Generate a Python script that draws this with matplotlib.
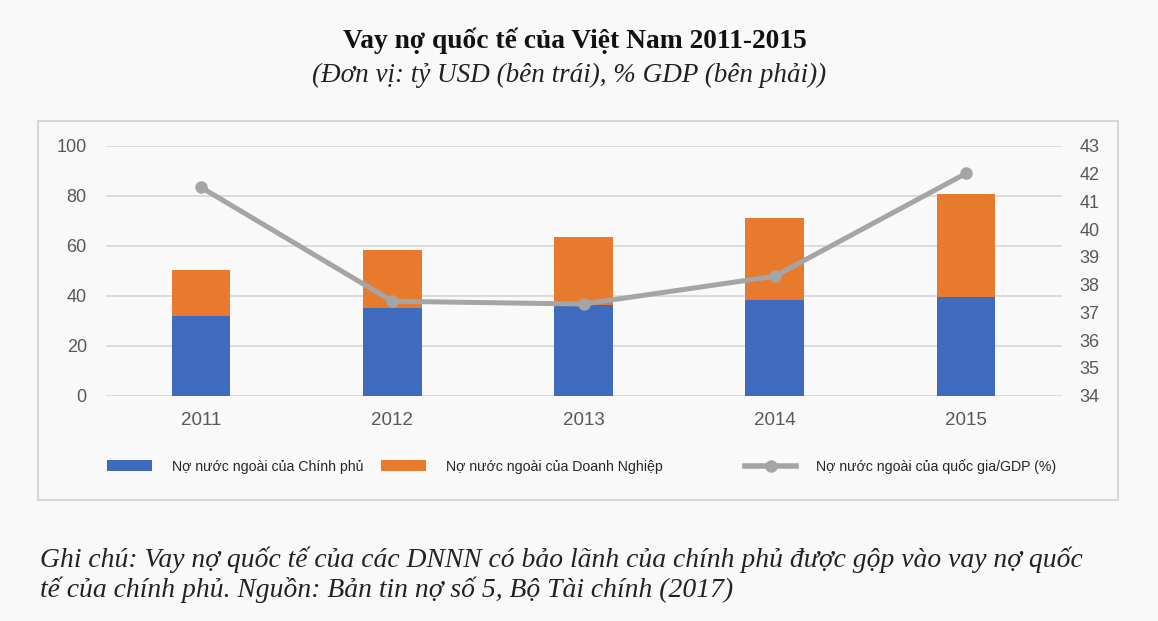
import matplotlib
matplotlib.use("Agg")
import matplotlib.pyplot as plt
from matplotlib.patches import Rectangle, Patch
from matplotlib.lines import Line2D

years = ["2011", "2012", "2013", "2014", "2015"]
gov_debt = [31.9, 34.9, 36.4, 38.3, 39.6]          # ty USD
corp_debt = [18.4, 23.4, 27.1, 32.7, 41.1]         # ty USD
debt_gdp = [41.5, 37.4, 37.3, 38.3, 42.0]          # % GDP
left_ticks = [0, 20, 40, 60, 80, 100]
right_ticks = [34, 35, 36, 37, 38, 39, 40, 41, 42, 43]

BLUE = "#3f6bbf"
ORANGE = "#e87a2e"
GRAY = "#a5a5a5"
TXT = "#595959"
BG = "#f9f9f9"

W, H = 1158, 621
fig = plt.figure(figsize=(W / 100, H / 100), dpi=100, facecolor=BG)

# chart frame, kept behind the axes
fig.patches.append(Rectangle((37.5 / W, 1 - 500 / H), 1080 / W, 379 / H,
                             transform=fig.transFigure, facecolor=BG,
                             edgecolor="#d6d6d6", linewidth=1.5, zorder=-10))

ax = fig.add_axes([105.5 / W, 1 - 395.7 / H, 956 / W, 250 / H])
ax.set_facecolor("none")
x = range(len(years))
ax.bar(x, gov_debt, width=0.307, color=BLUE, zorder=3)
ax.bar(x, corp_debt, width=0.307, bottom=gov_debt, color=ORANGE, zorder=3)
ax.set_xlim(-0.5, len(years) - 0.5)
ax.set_ylim(0, 100)
ax.set_yticks(left_ticks)
ax.set_xticks(list(x))
ax.set_xticklabels(years)
ax.grid(axis="y", color="#d9d9d9", linewidth=1.3, zorder=0)
for s in ax.spines.values():
    s.set_visible(False)
ax.tick_params(axis="y", length=0, pad=13.5, labelsize=13, labelcolor=TXT)
ax.tick_params(axis="x", length=0, pad=12, labelsize=13.5, labelcolor=TXT)
for lab in ax.get_xticklabels() + ax.get_yticklabels():
    lab.set_fontfamily("Liberation Sans")

ax2 = ax.twinx()
ax2.plot(list(x), debt_gdp, color=GRAY, linewidth=3.6, marker="o",
         markersize=8, zorder=5)
ax2.set_ylim(34, 43)
ax2.set_yticks(right_ticks)
for s in ax2.spines.values():
    s.set_visible(False)
ax2.tick_params(axis="y", length=0, pad=13, labelsize=13, labelcolor=TXT)
for lab in ax2.get_yticklabels():
    lab.set_fontfamily("Liberation Sans")

# legend, one entry per box so spacing follows the original
leg_font = {"family": ["Liberation Sans Narrow", "Liberation Sans"], "size": 10.2}
items = [
    (Patch(facecolor=BLUE), "Nợ nước ngoài của Chính phủ", 107, 3.2),
    (Patch(facecolor=ORANGE), "Nợ nước ngoài của Doanh Nghiệp", 381, 3.2),
    (Line2D([0], [0], color=GRAY, linewidth=4, marker="o", markersize=8),
     "Nợ nước ngoài của quốc gia/GDP (%)", 745, 3.6),
]
for h, lbl, px, hl in items:
    lg = fig.legend(handles=[h], labels=[lbl], loc="center left",
                    bbox_to_anchor=(px / W, 1 - 466.5 / H), frameon=False,
                    borderpad=0, borderaxespad=0, handlelength=hl,
                    handleheight=0.75, handletextpad=1.4, prop=leg_font)
    for t in lg.get_texts():
        t.set_color("#262626")

serif = ["Liberation Serif", "DejaVu Serif"]
fig.text(575 / W, 1 - 48 / H, "Vay nợ quốc tế của Việt Nam 2011-2015",
         ha="center", va="baseline", fontsize=19.8, fontweight="bold",
         family=serif, color="#111111")
fig.text(569 / W, 1 - 81.7 / H, "(Đơn vị: tỷ USD (bên trái), % GDP (bên phải))",
         ha="center", va="baseline", fontsize=19.5, style="italic",
         family=serif, color="#222222")
fig.text(39.6 / W, 1 - 567.3 / H,
         "Ghi chú: Vay nợ quốc tế của các DNNN có bảo lãnh của chính phủ được gộp vào vay nợ quốc",
         ha="left", va="baseline", fontsize=19.9, style="italic",
         family=serif, color="#222222")
fig.text(39.6 / W, 1 - 597 / H,
         "tế của chính phủ. Nguồn: Bản tin nợ số 5, Bộ Tài chính (2017)",
         ha="left", va="baseline", fontsize=19.9, style="italic",
         family=serif, color="#222222")

fig.savefig("out.png", dpi=100, facecolor=BG)
